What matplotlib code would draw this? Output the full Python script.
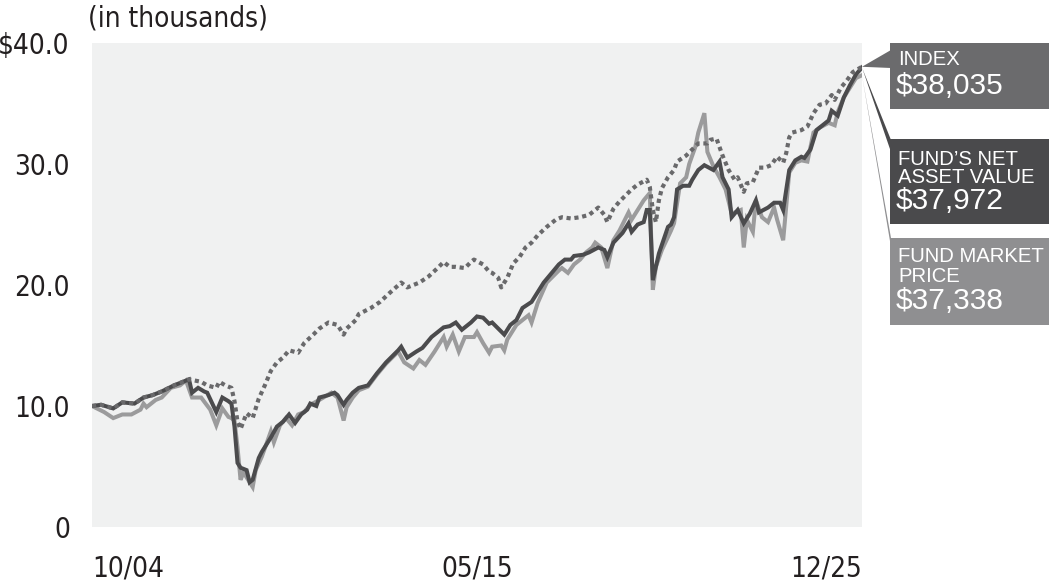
import numpy as np
import matplotlib.pyplot as plt
from matplotlib.patches import Polygon, Rectangle
from matplotlib import font_manager

# narrow font for axis text if one is installed
cond = font_manager.FontProperties(family='DejaVu Sans', stretch='condensed')
if 'Condensed' in font_manager.findfont(cond):
    axis_font = dict(family='DejaVu Sans', stretch='condensed')
else:
    axis_font = dict(family='Liberation Sans')

# months since 10/04
nav_m = [0, 3, 7, 10, 14, 17, 20, 23, 27, 30, 32, 33, 35, 37, 38, 41, 43, 45, 46, 47, 48, 49, 51, 52, 53, 55,
         56, 59, 61, 63, 65, 67, 69, 71, 72, 74, 75, 78, 80, 81, 83, 84, 86, 88, 91, 94, 97, 101, 102, 104,
         107, 109, 112, 114, 116, 118, 120, 122, 125, 127, 129, 131, 132, 134, 136, 138, 140, 142, 145, 147,
         149, 151, 154, 156, 158, 159, 162, 164, 167, 169, 170, 172, 175, 177, 178, 180, 182, 183, 184, 185,
         186, 187, 190, 191, 192, 193, 195, 197, 198, 200, 202, 205, 207, 208, 210, 211, 213, 215, 217, 219,
         220, 223, 225, 227, 228, 230, 232, 234, 235, 237, 239, 241, 243, 244, 246, 248, 250, 252, 254]
nav_v = [10.0, 10.1, 9.8, 10.3, 10.2, 10.7, 10.9, 11.2, 11.7, 12.0, 12.2, 11.1, 11.5, 11.2, 11.1, 9.5, 10.7,
         10.4, 10.2, 8.3, 5.3, 4.9, 4.7, 3.7, 3.9, 5.7, 6.2, 7.4, 8.3, 8.7, 9.3, 8.6, 9.3, 9.7, 10.2, 10.0,
         10.7, 10.9, 11.1, 10.9, 10.1, 10.5, 11.1, 11.5, 11.7, 12.7, 13.6, 14.6, 14.9, 14.0, 14.5, 14.8, 15.7,
         16.1, 16.5, 16.6, 16.9, 16.3, 16.9, 17.4, 17.3, 16.8, 16.9, 16.4, 15.9, 16.7, 17.1, 18.1, 18.6, 19.4,
         20.2, 20.8, 21.7, 22.1, 22.1, 22.4, 22.5, 22.7, 23.1, 22.9, 22.3, 23.5, 24.3, 25.1, 24.4, 25.0, 25.2,
         26.2, 26.2, 20.4, 21.5, 22.6, 24.8, 25.0, 25.6, 27.9, 28.2, 28.2, 28.7, 29.5, 29.9, 29.5, 30.2, 28.9,
         27.9, 25.6, 26.2, 25.1, 25.9, 27.0, 26.0, 26.4, 26.8, 26.8, 26.2, 29.5, 30.3, 30.6, 30.5, 31.2, 32.8,
         33.2, 33.6, 34.4, 34.0, 35.5, 36.5, 37.4, 37.972]

mkt_m = [0, 4, 7, 10, 13, 16, 17, 18, 21, 23, 26, 29, 31, 33, 36, 39, 41, 43, 45, 46, 47, 48, 49, 50, 51, 53,
         54, 56, 59, 60, 62, 64, 66, 68, 70, 72, 75, 79, 81, 83, 84, 86, 88, 91, 94, 97, 101, 103, 106, 108,
         110, 113, 114, 116, 117, 119, 121, 123, 126, 127, 129, 131, 132, 135, 136, 137, 140, 144, 145, 147,
         150, 154, 155, 157, 159, 161, 163, 165, 166, 168, 170, 172, 174, 175, 177, 178, 180, 182, 184, 185,
         186, 188, 191, 192, 194, 196, 197, 199, 200, 202, 203, 205, 207, 209, 211, 214, 215, 216, 218, 219,
         221, 223, 225, 226, 228, 230, 232, 234, 236, 238, 240, 243, 245, 246, 248, 251, 252, 254]
mkt_v = [10.0, 9.5, 9.0, 9.3, 9.3, 9.7, 10.2, 9.9, 10.5, 10.7, 11.5, 11.7, 12.1, 10.7, 10.7, 9.7, 8.4, 9.8,
         9.1, 9.0, 8.8, 6.6, 3.9, 4.5, 4.1, 3.3, 4.7, 5.8, 7.9, 7.0, 8.4, 9.0, 8.4, 9.3, 9.5, 10.1, 10.5,
         11.1, 10.7, 8.8, 9.9, 10.7, 11.3, 11.6, 12.6, 13.5, 14.5, 13.6, 13.1, 13.8, 13.4, 14.5, 14.9, 15.7,
         14.9, 15.9, 14.5, 15.7, 15.7, 16.1, 15.2, 14.4, 14.9, 15.0, 14.6, 15.5, 16.7, 17.5, 16.9, 18.5, 20.2,
         21.2, 21.4, 21.0, 21.7, 22.1, 22.7, 23.1, 23.5, 23.1, 21.4, 23.7, 24.5, 25.0, 26.0, 25.4, 26.2, 27.0,
         27.6, 19.6, 21.5, 22.9, 24.5, 25.1, 28.4, 28.9, 30.0, 31.4, 32.6, 34.2, 31.0, 29.8, 28.9, 27.9, 25.9,
         26.2, 23.1, 25.4, 24.4, 27.0, 25.6, 25.2, 26.4, 25.4, 23.7, 29.3, 30.1, 30.3, 30.2, 32.6, 33.0, 33.4,
         33.2, 34.3, 35.5, 36.7, 37.1, 37.338]

idx_m = [0, 3, 7, 10, 14, 17, 20, 23, 27, 30, 32, 36, 38, 41, 42, 44, 46, 47, 48, 49, 51, 53, 55, 57, 59, 61,
         63, 65, 68, 70, 73, 75, 78, 81, 83, 84, 87, 88, 92, 95, 98, 102, 104, 108, 111, 114, 116, 118, 120,
         123, 125, 126, 129, 131, 132, 134, 135, 137, 139, 141, 143, 145, 147, 150, 153, 155, 158, 161, 164,
         167, 169, 170, 172, 174, 176, 178, 180, 183, 184, 185, 186, 187, 188, 190, 192, 193, 196, 198, 200,
         203, 204, 206, 207, 208, 210, 212, 213, 215, 216, 218, 220, 222, 224, 226, 228, 229, 230, 231, 234,
         236, 238, 240, 242, 244, 245, 247, 249, 251, 254]
idx_v = [10.0, 10.1, 9.8, 10.3, 10.2, 10.7, 10.9, 11.2, 11.7, 12.0, 12.2, 12.0, 11.7, 11.5, 12.0, 11.7, 11.5,
         10.4, 8.7, 8.1, 9.4, 9.0, 10.6, 11.7, 12.9, 13.6, 14.0, 14.6, 14.4, 15.2, 15.9, 16.4, 16.9, 16.7,
         15.9, 16.4, 17.1, 17.6, 18.1, 18.6, 19.3, 20.2, 19.8, 20.2, 20.7, 21.4, 21.9, 21.5, 21.5, 21.4, 21.9,
         22.1, 21.7, 21.1, 21.0, 20.6, 19.8, 20.6, 21.8, 22.3, 23.1, 23.5, 24.1, 24.8, 25.4, 25.6, 25.5, 25.6,
         25.8, 26.4, 25.8, 25.2, 26.3, 26.9, 27.4, 27.9, 28.3, 28.7, 28.1, 26.2, 25.2, 27.0, 28.0, 28.9, 29.5,
         30.2, 30.7, 31.2, 31.7, 31.7, 32.0, 32.1, 31.4, 30.7, 29.5, 28.7, 28.9, 27.7, 28.4, 28.5, 29.7, 29.7,
         29.9, 30.6, 30.1, 30.9, 32.2, 32.6, 32.8, 33.1, 34.2, 34.9, 35.0, 35.7, 35.3, 36.3, 36.9, 37.6, 38.035]

y_ticks = [0, 10, 20, 30, 40]
y_labels = ['0', '10.0', '20.0', '30.0', '$40.0']
x_ticks = [0, 127, 254]
x_labels = ['10/04', '05/15', '12/25']

W, H = 1049, 586
fig = plt.figure(figsize=(W / 100, H / 100), dpi=100)
ax = fig.add_axes([92 / W, 1 - 527 / H, 770 / W, 484 / H])
ax.set_facecolor('#f0f1f1')

ax.plot(mkt_m, mkt_v, color='#9b9b9c', lw=2.9, solid_joinstyle='miter')
ax.plot(nav_m, nav_v, color='#4b4b4d', lw=2.9, solid_joinstyle='miter')
ax.plot(idx_m, idx_v, color='#69696b', lw=3.0, linestyle=(0, (1, 0.9)), dash_capstyle='butt')

ax.set_xlim(0, 254)
ax.set_ylim(0, 40)
for s in ax.spines.values():
    s.set_visible(False)
ax.tick_params(length=0, colors='#231f20')
ax.tick_params(axis='y', pad=16)
ax.tick_params(axis='x', pad=20)
ax.set_yticks(y_ticks)
ax.set_yticklabels(y_labels, fontsize=20, **axis_font)
for t in ax.get_yticklabels():
    t.set_va('center_baseline')
ax.set_xticks(x_ticks)
ax.set_xticklabels(x_labels, fontsize=20, **axis_font)
xl = ax.get_xticklabels()
xl[0].set_ha('left')
xl[2].set_ha('right')

fig.text(88 / W, 1 - 18 / H, '(in thousands)', fontsize=20, color='#231f20', va='center', ha='left',
         **axis_font)

# label boxes on the right
def px(x, y):
    return (x / W, 1 - y / H)

tip_i = fig.transFigure.inverted().transform(ax.transData.transform((idx_m[-1], idx_v[-1])))
tip_n = fig.transFigure.inverted().transform(ax.transData.transform((nav_m[-1], nav_v[-1])))
tip_k = fig.transFigure.inverted().transform(ax.transData.transform((mkt_m[-1], mkt_v[-1])))

boxes = [
    (43, 109, '#6b6b6d', tip_i, (50, 68)),
    (139, 224, '#4a4a4c', tip_n, (140, 152)),
    (238, 325, '#8f8f91', tip_k, (238, 247)),
]
for top, bot, c, tip, (w0, w1) in boxes:
    fig.add_artist(Rectangle(px(890, bot), 159 / W, (bot - top) / H, transform=fig.transFigure,
                             facecolor=c, edgecolor='none'))
    fig.add_artist(Polygon([tip, px(891, w0), px(891, w1)], closed=True, transform=fig.transFigure,
                           facecolor=c, edgecolor='none'))

box_font = ['Liberation Sans', 'DejaVu Sans']
fig.text(898 / W, 1 - 65 / H, 'INDEX', fontsize=14.6, color='white', family=box_font, va='baseline')
fig.text(896 / W, 1 - 94 / H, '$38,035', fontsize=21.5, color='white', family=box_font, va='baseline')
fig.text(898 / W, 1 - 165 / H, 'FUND\u2019S NET', fontsize=14.6, color='white', family=box_font, va='baseline')
fig.text(898 / W, 1 - 183 / H, 'ASSET VALUE', fontsize=14.6, color='white', family=box_font, va='baseline')
fig.text(896 / W, 1 - 209 / H, '$37,972', fontsize=21.5, color='white', family=box_font, va='baseline')
fig.text(898 / W, 1 - 262 / H, 'FUND MARKET', fontsize=14.6, color='white', family=box_font, va='baseline')
fig.text(898 / W, 1 - 282 / H, 'PRICE', fontsize=14.6, color='white', family=box_font, va='baseline')
fig.text(896 / W, 1 - 309 / H, '$37,338', fontsize=21.5, color='white', family=box_font, va='baseline')

fig.savefig('out.png', dpi=100)
